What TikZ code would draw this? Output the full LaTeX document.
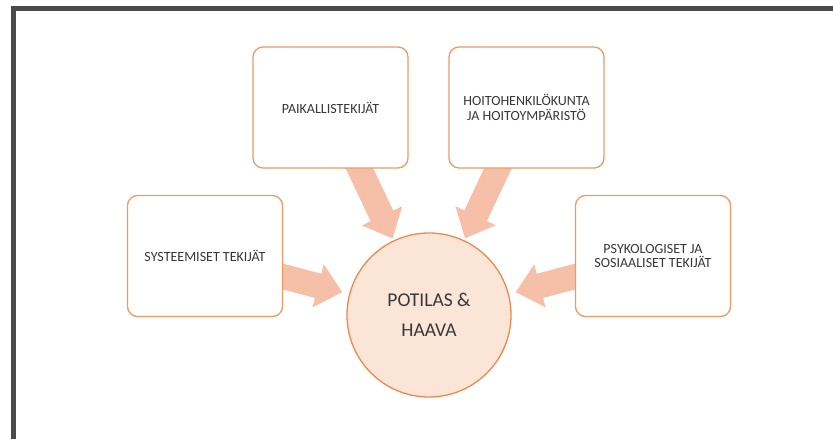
\documentclass[tikz,border=0pt]{standalone}
\usepackage{fontspec}
\setmainfont{Carlito}
\usetikzlibrary{arrows.meta}
\pgfdeclarelayer{bg}
\pgfsetlayers{bg,main}
\definecolor{boxorange}{HTML}{EE9A63}
\definecolor{circorange}{HTML}{EB8A4E}
\definecolor{peach}{HTML}{FBE5D6}
\definecolor{arrowfill}{HTML}{F5BFA8}
\definecolor{txt}{HTML}{383838}
\definecolor{framegray}{HTML}{4A4A4A}
\tikzset{
  factorbox/.style={draw=boxorange, line width=1.3pt, rounded corners=10pt, fill=white,
    minimum width=155pt, minimum height=121pt, align=center, text=txt,
    font=\fontsize{14}{14.5}\selectfont},
  centercircle/.style={circle, draw=circorange, line width=1.3pt, fill=peach,
    minimum size=164pt, align=center, text=txt, font=\fontsize{19.5}{30}\selectfont},
  bigarrow/.style={draw=arrowfill, line width=25pt, -{Triangle[width=43pt,length=25pt]}},
  framestyle/.style={draw=framegray, line width=5pt}
}
\begin{document}
\begin{tikzpicture}[x=1pt,y=-1pt]
\useasboundingbox (0,0) rectangle (833,439);
\draw[framestyle] (13,439) -- (13,8.5) -- (833,8.5);
\node[factorbox] (paik) at (330.5,107.5) {PAIKALLISTEKIJÄT};
\node[factorbox] (hoito) at (526.5,107.5) {HOITOHENKILÖKUNTA\\JA HOITOYMPÄRISTÖ};
\node[factorbox] (sys) at (205,256) {SYSTEEMISET TEKIJÄT};
\node[factorbox] (psy) at (653,256) {PSYKOLOGISET JA\\SOSIAALISET TEKIJÄT};
\node[centercircle] (pat) at (429,315) {POTILAS \&\\HAAVA};
\begin{pgfonlayer}{bg}
\draw[bigarrow, shorten >=7pt] (sys.center) -- (pat);
\draw[bigarrow, shorten >=7pt] (psy.center) -- (pat);
\draw[bigarrow, shorten >=2pt] (paik.center) -- (pat);
\draw[bigarrow, shorten >=2pt] (hoito.center) -- (pat);
\end{pgfonlayer}
\end{tikzpicture}
\end{document}
